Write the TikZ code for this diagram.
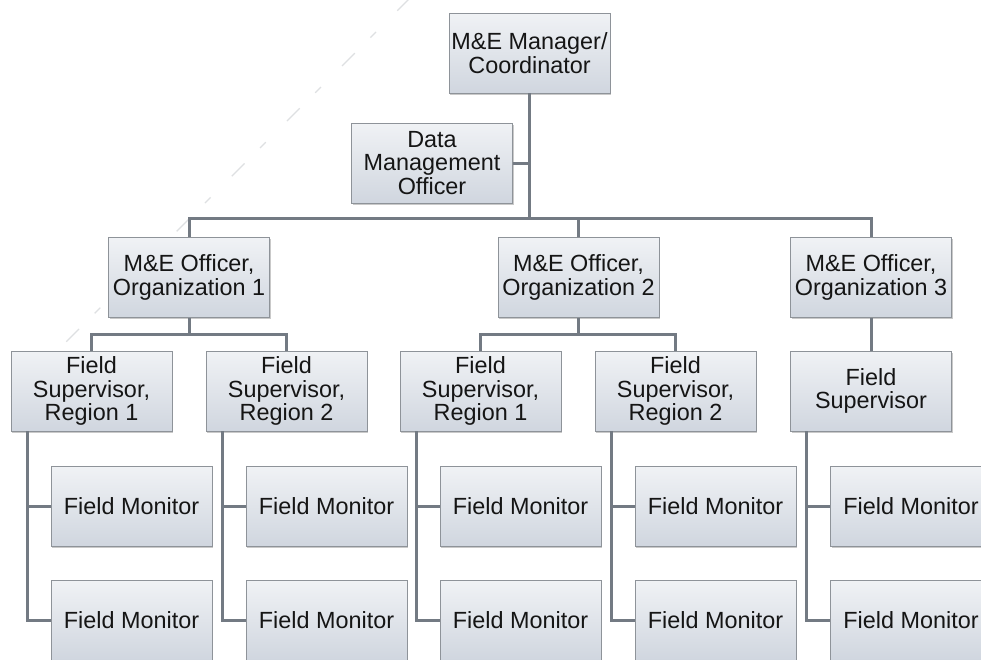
\documentclass[tikz,border=0pt]{standalone}
\usepackage{fontspec}
\setmainfont{Liberation Sans}
\usetikzlibrary{shadows,calc}

\definecolor{boxtop}{HTML}{F0F2F5}
\definecolor{boxbot}{HTML}{D0D6DF}
\definecolor{boxedge}{HTML}{8E9399}
\definecolor{linkgray}{HTML}{737A83}
\definecolor{inkgray}{HTML}{151515}
\definecolor{faintline}{HTML}{DEE0E2}

\tikzset{
  orgbox/.style={
    draw=boxedge, line width=0.9pt,
    top color=boxtop, bottom color=boxbot,
    minimum width=161pt, minimum height=80pt,
    inner sep=0pt, align=center, text=inkgray,
    font=\fontsize{23.4}{23.6}\selectfont,
    drop shadow={shadow xshift=1.2pt, shadow yshift=-1.5pt, opacity=0.35, fill=black!60}
  },
  link/.style={draw=linkgray, line width=3pt},
  guide/.style={draw=faintline, line width=1.2pt, dash pattern=on 18pt off 30pt on 8pt off 22pt}
}

\begin{document}
\begin{tikzpicture}[x=1pt, y=-1pt]
  \path[use as bounding box] (0,0) rectangle (981,659);
  \clip (0,0) rectangle (981,659);
  \fill[white] (0,0) rectangle (981,659);

  % faint diagonal guide behind the chart
  \coordinate (g1) at (410,-2);
  \coordinate (g2) at (-2,410);
  \draw[guide] (g1) -- (g2);

  % top level
  \node[orgbox] (top) at (529.5,53) {M\&E Manager/\\Coordinator};
  \node[orgbox] (dm)  at (432,163)  {Data\\Management\\Officer};

  % organisation officers
  \node[orgbox] (org1) at (189,277.5) {M\&E Officer,\\Organization 1};
  \node[orgbox] (org2) at (578.5,277.5) {M\&E Officer,\\Organization 2};
  \node[orgbox] (org3) at (871,277.5) {M\&E Officer,\\Organization 3};

  % field supervisors
  \node[orgbox] (fs11) at (91.5,391)  {Field\\Supervisor,\\Region 1};
  \node[orgbox] (fs12) at (286.5,391) {Field\\Supervisor,\\Region 2};
  \node[orgbox] (fs21) at (480.5,391) {Field\\Supervisor,\\Region 1};
  \node[orgbox] (fs22) at (675.5,391) {Field\\Supervisor,\\Region 2};
  \node[orgbox] (fs3)  at (871,391)   {Field\\Supervisor};

  % field monitors
  \foreach \s/\x in {fs11/131.5, fs12/326.5, fs21/520.5, fs22/715.5, fs3/911} {
    \node[orgbox] (\s-m1) at (\x,506) {Field Monitor};
    \node[orgbox] (\s-m2) at (\x,620) {Field Monitor};
  }

  % junction points
  \coordinate (hub) at (529.5,218);
  \coordinate (bus1) at (189,334);
  \coordinate (bus2) at (578.5,334);

  % connectors: manager level
  \draw[link] (top.south) -- (hub);
  \draw[link] (dm.east) -- (dm.east -| top.south);
  \draw[link] (org1.north) |- (hub) -| (org3.north);
  \draw[link] (org2.north) -- (org2.north |- hub);

  % connectors: officers to supervisors
  \draw[link] (org1.south) -- (bus1);
  \draw[link] (fs11.north) |- (bus1) -| (fs12.north);
  \draw[link] (org2.south) -- (bus2);
  \draw[link] (fs21.north) |- (bus2) -| (fs22.north);
  \draw[link] (org3.south) -- (fs3.north);

  % connectors: supervisors to monitors
  \foreach \s in {fs11, fs12, fs21, fs22, fs3} {
    \coordinate (\s-v) at ([xshift=-64.5pt]\s.south);
    \draw[link] (\s-v) |- (\s-m1.west);
    \draw[link] (\s-v) |- (\s-m2.west);
  }
\end{tikzpicture}
\end{document}
